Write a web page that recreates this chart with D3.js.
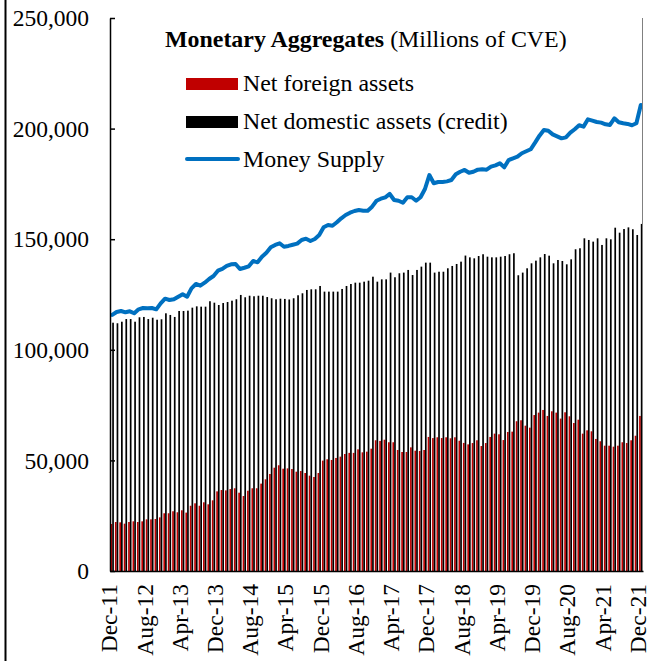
<!DOCTYPE html>
<html>
<head>
<meta charset="utf-8">
<script src="https://cdn.jsdelivr.net/npm/d3@7"></script>
<style>
  body { margin: 0; background: #fff; }
  svg { display: block; font-family: "Liberation Serif", "Times New Roman", serif; }
</style>
</head>
<body>
<div id="chart"></div>
<script>
// monthly, Dec-11 .. Dec-21 (millions of CVE)
var months = d3.timeMonths(new Date(2011, 11, 1), new Date(2022, 0, 1)).map(d3.timeFormat("%b-%y"));

var tickLabels = ["Dec-11", "Aug-12", "Apr-13", "Dec-13", "Aug-14", "Apr-15", "Dec-15", "Aug-16",
                  "Apr-17", "Dec-17", "Aug-18", "Apr-19", "Dec-19", "Aug-20", "Apr-21", "Dec-21"];

var yTicks = [0, 50000, 100000, 150000, 200000, 250000];

var netForeign = [
    21250, 22150, 22000, 21400, 22150, 22450, 22150, 22450, 23350, 23350,
    23500, 24250, 26100, 26100, 27000, 26550, 27450, 26400, 29500, 30600,
    29500, 31050, 30150, 31950, 36000, 36600, 36450, 37050, 37400, 35400,
    33900, 36300, 37400, 37400, 39500, 41450, 43850, 46700, 47800, 46250,
    46400, 46100, 44900, 45200, 44300, 43100, 42500, 44300, 49900, 50500,
    50200, 51100, 51700, 52900, 53400, 53400, 55000, 53650, 53950, 55300,
    59100, 58800, 59350, 58200, 58200, 54700, 53800, 53800, 55900, 54400,
    54250, 54700, 60600, 60100, 60450, 60100, 60450, 60000, 60450, 58900,
    57900, 57250, 57850, 59100, 56500, 57850, 60600, 62100, 61800, 59200,
    62850, 63000, 67700, 68150, 65700, 64800, 70500, 71600, 72800, 70100,
    72200, 71600, 68900, 71750, 69950, 66900, 68400, 62100, 63600, 63150,
    59700, 58650, 56650, 56650, 56200, 56650, 58200, 57850, 59100, 61150,
    70100
];

var netDomestic = [
    112250, 112000, 112700, 113900, 113900, 112700, 114700, 114850, 113900, 114500,
    113600, 113800, 116500, 115750, 114850, 117550, 117550, 117700, 119050, 119650,
    119500, 119500, 121950, 121300, 120250, 121150, 121600, 122200, 122850, 124800,
    123750, 124450, 124200, 124450, 124450, 123850, 123300, 122850, 123100, 123000,
    122750, 123300, 124650, 125550, 127050, 127350, 127350, 128850, 126300, 126300,
    126300, 126300, 127500, 128850, 129750, 130350, 130350, 130800, 131250, 133050,
    130800, 131850, 131850, 134900, 132800, 134600, 134900, 136100, 133800, 136100,
    137600, 139400, 139400, 134900, 135300, 135300, 136850, 137900, 138800, 139850,
    142600, 141800, 141350, 142400, 143200, 142100, 141800, 141800, 142100, 142400,
    143200, 143650, 133700, 134900, 136850, 139100, 140300, 141800, 143300, 142550,
    139100, 140600, 140150, 138650, 140900, 145450, 145900, 150400, 149650, 148900,
    150400, 147400, 150400, 149950, 155200, 152950, 154600, 155350, 154500, 151900,
    156900
];

var moneySupply = [
    115750, 117100, 117550, 116950, 117400, 116500, 118300, 118900, 118750, 118900,
    118300, 121000, 123100, 122500, 122850, 124000, 125100, 124000, 127800, 129750,
    129000, 130350, 132000, 133350, 135750, 136550, 137900, 138650, 138800, 136550,
    137100, 137750, 140150, 139550, 142100, 143900, 146350, 147400, 148150, 146600,
    146950, 147500, 148000, 149650, 150250, 149200, 150100, 151900, 155400, 156400,
    156100, 157650, 159450, 160950, 162000, 162750, 163200, 162900, 162900, 164700,
    167400, 168300, 168950, 170450, 167700, 167400, 166500, 168950, 168950, 167400,
    168950, 172700, 179000, 175300, 175850, 175850, 176150, 176750, 179350, 180500,
    181300, 180050, 180500, 181450, 181600, 181450, 182800, 183400, 184300, 182500,
    185800, 186550, 187300, 188850, 189750, 190650, 193650, 196800, 199400, 199050,
    197400, 196500, 195600, 196050, 198150, 199700, 201500, 200900, 204200, 203600,
    203000, 202700, 201950, 201650, 204650, 202850, 202400, 202100, 201500, 202400,
    210700
];

var W = 647, H = 661;
var margin = {left: 110, right: 643, top: 18, bottom: 571};
var axisFont = "23.5px", legendFont = "23.9px";

var svg = d3.select("#chart").append("svg")
    .attr("width", W)
    .attr("height", H);

// frame line on the far left
svg.append("line")
    .attr("x1", 5.5).attr("x2", 5.5)
    .attr("y1", 0).attr("y2", H)
    .attr("stroke", "#000")
    .attr("stroke-width", 2);

var x = d3.scaleBand().domain(months).range([margin.left, margin.right]);
var x1 = d3.scaleBand().domain(["nfa", "nda"]).range([0, x.bandwidth()]).paddingOuter(0.3);
var y = d3.scaleLinear().domain([0, 250000]).range([margin.bottom, margin.top]);

var rows = months.map(function(m, i) {
    return { month: m, nfa: netForeign[i], nda: netDomestic[i], ms: moneySupply[i] };
});

var groups = svg.append("g").selectAll("g")
    .data(rows)
    .enter().append("g")
    .attr("transform", function(d) { return "translate(" + x(d.month) + ",0)"; });

groups.append("rect")
    .attr("x", x1("nfa"))
    .attr("width", x1.bandwidth())
    .attr("y", function(d) { return y(d.nfa); })
    .attr("height", function(d) { return y(0) - y(d.nfa); })
    .attr("fill", "#C00000");

groups.append("rect")
    .attr("x", x1("nda"))
    .attr("width", x1.bandwidth())
    .attr("y", function(d) { return y(d.nda); })
    .attr("height", function(d) { return y(0) - y(d.nda); })
    .attr("fill", "#000");

var line = d3.line()
    .x(function(d) { return x(d.month) + x.bandwidth() / 2; })
    .y(function(d) { return y(d.ms); });

svg.append("path")
    .datum(rows)
    .attr("fill", "none")
    .attr("stroke", "#0070C0")
    .attr("stroke-width", 4)
    .attr("stroke-linejoin", "round")
    .attr("stroke-linecap", "round")
    .attr("d", line);

// right border of plot area
svg.append("line")
    .attr("x1", margin.right - 0.5).attr("x2", margin.right - 0.5)
    .attr("y1", margin.top).attr("y2", margin.bottom)
    .attr("stroke", "#808080")
    .attr("stroke-width", 1);

// y axis, ticks pointing inward
var yAxis = svg.append("g")
    .attr("transform", "translate(" + margin.left + ",0)")
    .call(d3.axisLeft(y).tickValues(yTicks).tickFormat(d3.format(",")).tickSizeInner(-5).tickSizeOuter(0).tickPadding(21));
yAxis.select(".domain").attr("stroke", "#000").attr("stroke-width", 1.5);
yAxis.selectAll(".tick line").attr("stroke", "#000").attr("stroke-width", 1.5);
yAxis.selectAll("text")
    .attr("font-family", "Liberation Serif")
    .attr("font-size", axisFont)
    .attr("fill", "#000")
    .attr("dy", "0.33em");

// x axis
var xAxis = svg.append("g")
    .attr("transform", "translate(0," + margin.bottom + ")")
    .call(d3.axisBottom(x).tickValues(tickLabels).tickSize(0).tickPadding(0));
xAxis.select(".domain").attr("stroke", "#000").attr("stroke-width", 1.5);
xAxis.selectAll("text")
    .attr("font-family", "Liberation Serif")
    .attr("font-size", axisFont)
    .attr("fill", "#000")
    .attr("text-anchor", "end")
    .attr("transform", "translate(-2,13) rotate(-90)")
    .attr("x", 0)
    .attr("y", 0)
    .attr("dy", "0.3em");

// title + legend
var title = svg.append("text")
    .attr("x", 165)
    .attr("y", 47)
    .attr("font-size", legendFont)
    .attr("fill", "#000");
title.append("tspan").attr("font-weight", "bold").text("Monetary Aggregates");
title.append("tspan").text(" (Millions of CVE)");

var legendItems = [
    { label: "Net foreign assets", color: "#C00000", type: "bar" },
    { label: "Net domestic assets (credit)", color: "#000", type: "bar" },
    { label: "Money Supply", color: "#0070C0", type: "line" }
];

var legend = svg.append("g");
legendItems.forEach(function(d, i) {
    var cy = 84 + i * 38;
    if (d.type === "bar") {
        legend.append("rect")
            .attr("x", 186).attr("y", cy - 6)
            .attr("width", 52).attr("height", 12)
            .attr("fill", d.color);
    } else {
        legend.append("line")
            .attr("x1", 187).attr("x2", 238)
            .attr("y1", cy - 1).attr("y2", cy - 1)
            .attr("stroke", d.color)
            .attr("stroke-width", 4)
            .attr("stroke-linecap", "round");
    }
    legend.append("text")
        .attr("x", 243)
        .attr("y", cy + 7)
        .attr("font-size", legendFont)
        .attr("fill", "#000")
        .text(d.label);
});
</script>
</body>
</html>
